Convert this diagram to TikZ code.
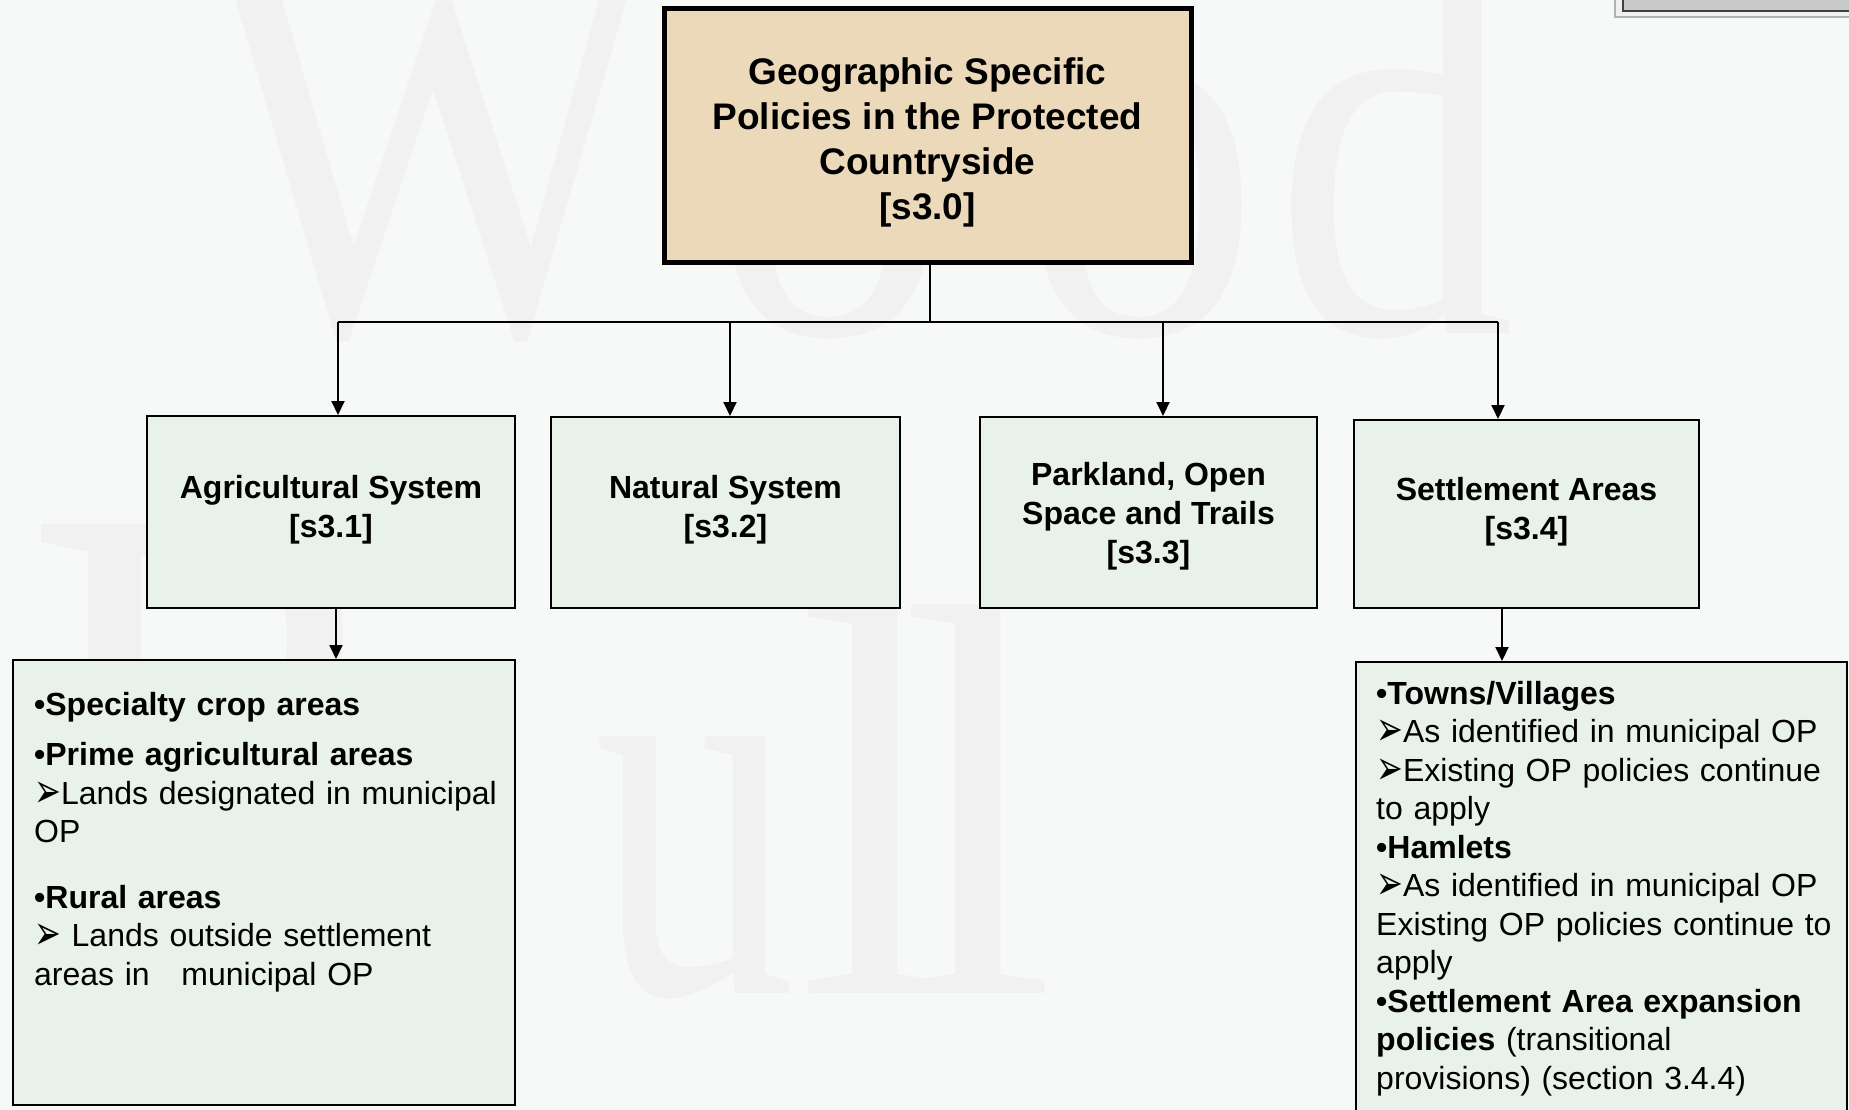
\documentclass[tikz,border=0pt]{standalone}
\usepackage{fontspec}
\setmainfont{Liberation Sans}
\newfontfamily\dingfont{DejaVu Sans}
\newfontfamily\wmfont{Liberation Serif}
\usetikzlibrary{arrows.meta}
\definecolor{pagebg}{HTML}{F7F9F8}
\definecolor{wmgray}{HTML}{F0F1F0}
\definecolor{tanfill}{HTML}{EBD9B9}
\definecolor{greenfill}{HTML}{E8F2EA}
\definecolor{capgray}{HTML}{C8C9C9}
% arrowhead bullet used in the lists
\newcommand\pointer{\raisebox{-3pt}{\scalebox{1}[1.5]{\dingfont\fontsize{32}{32}\selectfont ➢}}}

\begin{document}
\begin{tikzpicture}[x=1pt,y=-1pt,
  rootbox/.style={draw=black, line width=5pt, fill=tanfill, minimum width=527pt,
    minimum height=253pt, inner sep=0pt, align=center,
    font=\fontsize{37}{45}\selectfont\bfseries},
  topicbox/.style={draw=black, line width=2pt, fill=greenfill, inner sep=0pt,
    align=center, font=\fontsize{32}{39}\selectfont\bfseries},
  listbox/.style={draw=black, line width=2pt, fill=greenfill, inner sep=0pt},
  listtext/.style={anchor=north west, inner sep=0pt, align=left,
    font=\fontsize{32}{38.5}\selectfont},
  link/.style={draw=black, line width=2pt},
  drop/.style={link, -{Triangle[length=14pt,width=13pt]}},
  wm/.style={anchor=base, inner sep=0pt, text=wmgray,
    font=\wmfont\fontsize{560}{560}\selectfont}
]
\clip (0,0) rectangle (1849,1110);
\fill[pagebg] (0,0) rectangle (1849,1110);

% faint background lettering
\node[wm] (wmW)  at (432,333)  {\scalebox{0.86}[1]{W}};
\node[wm] (wmO1) at (830,333)  {\scalebox{0.86}[1]{o}};
\node[wm] (wmO2) at (1140,333) {\scalebox{0.86}[1]{o}};
\node[wm] (wmD)  at (1395,333) {\scalebox{0.86}[1]{d}};
\node[wm] (wmB)  at (212,993)  {\scalebox{1}[1.28]{B}};
\node[wm] (wmU)  at (695,993)  {\scalebox{0.72}[1]{u}};
\node[wm] (wmL1) at (875,993)  {l};
\node[wm] (wmL2) at (978,993)  {l};

% grey bar in the upper right corner
\draw[draw=gray!60, fill=gray!12, line width=1.5pt] (1615,-10) rectangle (1860,17);
\draw[draw=black!75, fill=capgray, line width=1.5pt] (1623,-10) rectangle (1860,11);

% root
\node[rootbox] (root) at (927.5,135.5)
  {\rule{0pt}{41pt}Geographic Specific\\Policies in the Protected\\Countryside\\{[s3.0]}};

% topics
\node[topicbox, minimum width=368pt, minimum height=192pt] (agri) at (331,512)
  {Agricultural System\\{[s3.1]}\rule[-12pt]{0pt}{1pt}};
\node[topicbox, minimum width=349pt, minimum height=191pt] (natural) at (725.5,512.5)
  {Natural System\\{[s3.2]}\rule[-12pt]{0pt}{1pt}};
\node[topicbox, minimum width=337pt, minimum height=191pt] (park) at (1148.5,512.5)
  {\rule{0pt}{30.5pt}Parkland, Open\\Space and Trails\\{[s3.3]}};
\node[topicbox, minimum width=345pt, minimum height=188pt] (settle) at (1526.5,514)
  {Settlement Areas\\{[s3.4]}\rule[-12pt]{0pt}{1pt}};

% detail lists
\node[listbox, minimum width=502pt, minimum height=445pt] (agrilist) at (264,882.5) {};
\node[listbox, minimum width=491pt, minimum height=470pt] (settlist) at (1601.5,897) {};

\node[listtext, text width=478pt] (agritext) at (34,692)
  {\textbf{•Specialty crop areas}\\[12pt]
   \textbf{•Prime agricultural areas}\\
   \pointer Lands designated in municipal\\
   OP\\[27pt]
   \textbf{•Rural areas}\\
   \pointer\ Lands outside settlement\\
   areas in\hspace{21pt} municipal OP};

\node[listtext, text width=468pt] (setttext) at (1376,681)
  {\textbf{•Towns/Villages}\\
   \pointer As identified in municipal OP\\
   \pointer Existing OP policies continue\\
   to apply\\
   \textbf{•Hamlets}\\
   \pointer As identified in municipal OP\\
   Existing OP policies continue to\\
   apply\\
   \textbf{•Settlement Area expansion}\\
   \textbf{policies} (transitional\\
   provisions) (section 3.4.4)};

% connectors
\coordinate (hub) at (930,322);
\coordinate (jA) at (338,322);
\coordinate (jN) at (730,322);
\coordinate (jP) at (1163,322);
\coordinate (jS) at (1498,322);
\draw[link] (root.south -| hub) -- (hub);
\draw[link] (jA) -- (jS);
\draw[drop] (jA) -- (jA |- agri.north);
\draw[drop] (jN) -- (jN |- natural.north);
\draw[drop] (jP) -- (jP |- park.north);
\draw[drop] (jS) -- (jS |- settle.north);
\draw[drop] ([xshift=5pt]agri.south) -- ([xshift=5pt]agri.south |- agrilist.north);
\draw[drop] ([xshift=-24.5pt]settle.south) -- ([xshift=-24.5pt]settle.south |- settlist.north);
\end{tikzpicture}
\end{document}
